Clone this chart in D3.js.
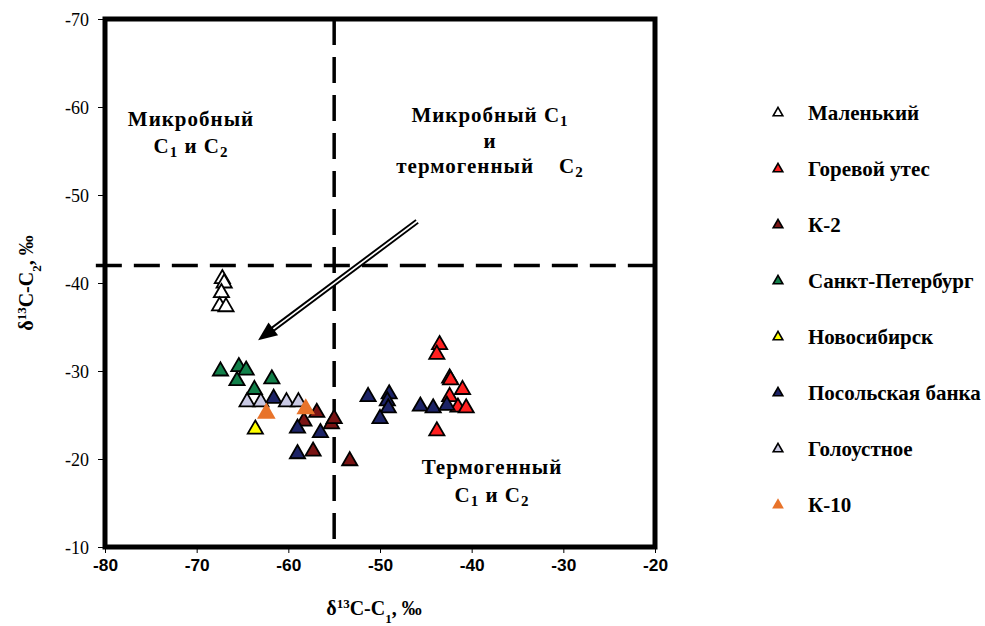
<!DOCTYPE html>
<html>
<head>
<meta charset="utf-8">
<script src="https://d3js.org/d3.v7.min.js"></script>
<style>
  body { margin: 0; background: #fff; }
  svg text { font-family: "Liberation Serif", "Times New Roman", serif; }
</style>
</head>
<body>
<svg id="chart" width="985" height="626"></svg>
<script>
// series: [d13C-C1, d13C-C2]
var malenkiy = [[-67.2, -40.6], [-67.0, -40.1], [-67.3, -39.0], [-67.5, -37.5], [-66.8, -37.4]];
var gorevoy = [[-43.5, -33.1], [-43.8, -32.0], [-42.4, -29.3], [-42.3, -29.1], [-41.0, -28.0],
               [-42.4, -27.2], [-41.5, -26.0], [-40.6, -25.9], [-43.8, -23.3]];
var k2 = [[-56.9, -25.4], [-58.3, -24.4], [-55.3, -24.1], [-55.0, -24.7], [-57.3, -21.0], [-53.3, -19.9]];
var spb = [[-67.4, -30.1], [-65.4, -30.6], [-64.6, -30.2], [-65.6, -29.0], [-61.8, -29.2], [-63.7, -28.0]];
var novosib = [[-63.6, -23.5]];
var posolsk = [[-61.6, -27.0], [-59.0, -23.6], [-56.5, -23.1], [-59.0, -20.7], [-51.3, -27.2],
               [-49.0, -27.5], [-49.2, -26.7], [-49.1, -25.9], [-50.0, -24.7], [-45.6, -26.1],
               [-44.2, -25.9], [-42.7, -26.2]];
var goloust = [[-64.5, -26.6], [-63.0, -26.6], [-60.2, -26.6], [-58.9, -26.6]];
var k10 = [[-62.4, -25.3], [-58.1, -25.8]];

var seriesNames = ["Маленький", "Горевой утес", "К-2", "Санкт-Петербург", "Новосибирск",
                   "Посольская банка", "Голоустное", "К-10"];
var seriesData = [malenkiy, gorevoy, k2, spb, novosib, posolsk, goloust, k10];
var seriesColors = ["#ffffff", "#ff2020", "#7a1414", "#12804a", "#ffff00", "#1c2366", "#c9c9e4", "#e8732a"];
var seriesStroke = ["#000", "#000", "#000", "#000", "#000", "#000", "#000", "none"];

var xTicks = [-80, -70, -60, -50, -40, -30, -20];
var yTicks = [-70, -60, -50, -40, -30, -20, -10];

var svg = d3.select("#chart");
var x = d3.scaleLinear().domain([-80, -20]).range([105, 655]);
var y = d3.scaleLinear().domain([-70, -10]).range([19, 547]);

// axes
var yAxis = svg.append("g")
    .attr("transform", "translate(" + x(-80) + ",0)")
    .call(d3.axisLeft(y).tickValues(yTicks).tickSize(7).tickFormat(function(d) { return String(d); }));
yAxis.selectAll("text").style("font-family", "Liberation Serif").style("font-size", "18px")
    .attr("x", -16).attr("dy", "0.38em");
yAxis.select(".domain").remove();

var xAxis = svg.append("g")
    .attr("transform", "translate(0," + y(-10) + ")")
    .call(d3.axisBottom(x).tickValues(xTicks).tickSize(6).tickFormat(function(d) { return String(d); }));
xAxis.selectAll(".tick text").style("font-family", "Liberation Sans").style("font-weight", "bold")
    .style("font-size", "17px").attr("y", 12)
    .attr("textLength", 25).attr("lengthAdjust", "spacingAndGlyphs");
xAxis.select(".domain").remove();

// dashed boundaries
svg.append("line").attr("x1", x(-55)).attr("x2", x(-55)).attr("y1", y(-70)).attr("y2", y(-10))
    .attr("stroke", "#000").attr("stroke-width", 3.5).attr("stroke-dasharray", "26,12");
svg.append("line").attr("x1", x(-81)).attr("x2", x(-19.4)).attr("y1", y(-42)).attr("y2", y(-42))
    .attr("stroke", "#000").attr("stroke-width", 3.5).attr("stroke-dasharray", "26,12");

// frame
svg.append("rect").attr("x", x(-80)).attr("y", y(-70))
    .attr("width", x(-20) - x(-80)).attr("height", y(-10) - y(-70))
    .attr("fill", "none").attr("stroke", "#000").attr("stroke-width", 5);

// arrow
var a0 = [x(-45.95), y(-47.0)], a1 = [x(-63.3), y(-33.5)];
var ang = Math.atan2(a1[1] - a0[1], a1[0] - a0[0]);
var hl = 19, hw = 8;
var bx = a1[0] - hl * Math.cos(ang), by = a1[1] - hl * Math.sin(ang);
var ex = bx + 2 * Math.cos(ang), ey = by + 2 * Math.sin(ang);
svg.append("line").attr("x1", a0[0]).attr("y1", a0[1]).attr("x2", ex).attr("y2", ey)
    .attr("stroke", "#000").attr("stroke-width", 5.5);
svg.append("line").attr("x1", a0[0] - 1.5 * Math.cos(ang)).attr("y1", a0[1] - 1.5 * Math.sin(ang))
    .attr("x2", bx).attr("y2", by)
    .attr("stroke", "#fff").attr("stroke-width", 1.7);
svg.append("path")
    .attr("d", "M" + a1[0] + "," + a1[1] +
        "L" + (bx + hw * Math.sin(ang)) + "," + (by - hw * Math.cos(ang)) +
        "L" + (bx - hw * Math.sin(ang)) + "," + (by + hw * Math.cos(ang)) + "Z")
    .attr("fill", "#000");

// points (orange series has no outline, so it is drawn a bit larger)
seriesData.forEach(function(data, i) {
    var tri = d3.symbol().type(d3.symbolTriangle).size(seriesStroke[i] === "none" ? 150 : 100);
    svg.append("g").selectAll("path")
        .data(data)
        .enter()
        .append("path")
        .attr("d", tri)
        .attr("transform", function(d) { return "translate(" + x(d[0]) + "," + (y(d[1]) + 1) + ")"; })
        .attr("fill", seriesColors[i])
        .attr("stroke", seriesStroke[i])
        .attr("stroke-width", 1.8)
        .attr("stroke-linejoin", "miter");
});

// region labels
function label(lines, cx, cy, gap) {
    var t = svg.append("text").attr("text-anchor", "middle").attr("xml:space", "preserve")
        .style("white-space", "pre")
        .style("font-size", "21px").style("font-weight", "bold").style("letter-spacing", "1px");
    lines.forEach(function(l, k) {
        var ts = t.append("tspan").attr("x", cx).attr("y", cy + k * gap);
        l.forEach(function(part) {
            var s = ts.append("tspan").text(part[0]);
            if (part[1]) s.attr("baseline-shift", "-4").style("font-size", "15px");
        });
    });
}
label([[["Микробный"]], [["С"], ["1", 1], [" и С"], ["2", 1]]], 191, 126, 27);
label([[["Микробный С"], ["1", 1]], [["и"]], [["термогенный    С"], ["2", 1]]], 490, 122, 25.5);
label([[["Термогенный"]], [["С"], ["1", 1], [" и С"], ["2", 1]]], 492, 474, 28);

// axis titles
var xt = svg.append("text").attr("x", 374).attr("y", 615).attr("text-anchor", "middle")
    .style("font-size", "20px").style("font-weight", "bold");
xt.append("tspan").text("δ");
xt.append("tspan").text("13").attr("baseline-shift", "super").style("font-size", "13px");
xt.append("tspan").text("C-C");
xt.append("tspan").text("1").attr("baseline-shift", "sub").style("font-size", "13px");
xt.append("tspan").text(", ‰");

var yt = svg.append("text").attr("transform", "translate(33,283) rotate(-90)").attr("text-anchor", "middle")
    .style("font-size", "20px").style("font-weight", "bold");
yt.append("tspan").text("δ");
yt.append("tspan").text("13").attr("baseline-shift", "super").style("font-size", "13px");
yt.append("tspan").text("C-C");
yt.append("tspan").text("2").attr("baseline-shift", "sub").style("font-size", "13px");
yt.append("tspan").text(", ‰");

// legend
var legend = svg.append("g").selectAll("g")
    .data(seriesNames)
    .enter()
    .append("g")
    .attr("transform", function(d, i) { return "translate(778," + (113 + i * 56) + ")"; });
legend.append("path")
    .attr("d", function(d, i) {
        return d3.symbol().type(d3.symbolTriangle).size(seriesStroke[i] === "none" ? 60 : 40)();
    })
    .attr("fill", function(d, i) { return seriesColors[i]; })
    .attr("stroke", function(d, i) { return seriesStroke[i]; })
    .attr("stroke-width", 1.6);
legend.append("text")
    .attr("x", 30).attr("y", 7)
    .style("font-size", "21px").style("font-weight", "bold")
    .text(function(d) { return d; });
</script>
</body>
</html>
